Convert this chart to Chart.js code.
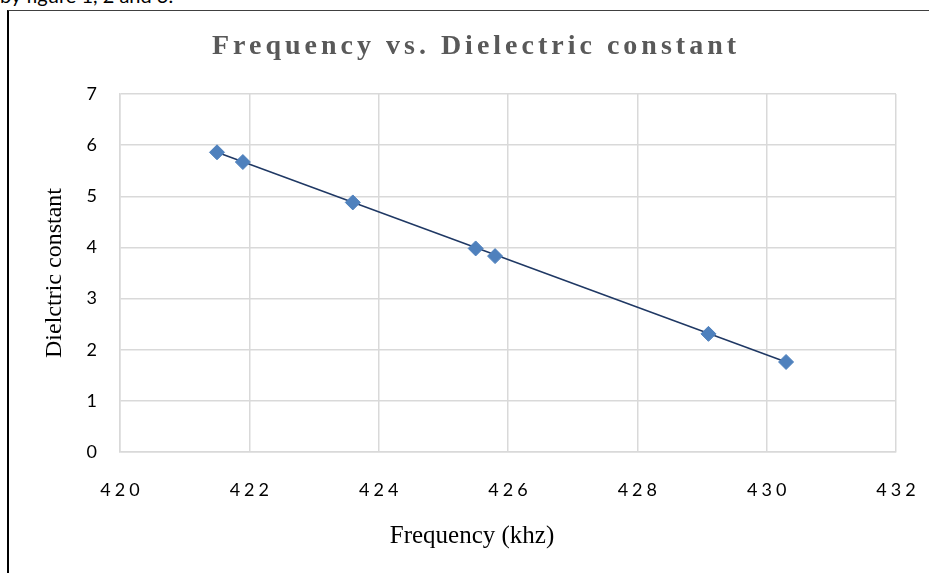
<!DOCTYPE html>
<html>
<head>
<meta charset="utf-8">
<script src="https://cdn.jsdelivr.net/npm/chart.js@4/dist/chart.umd.min.js"></script>
<style>
  html, body { margin: 0; padding: 0; background: #fff; overflow: hidden; width: 929px; height: 573px; }
  #doc-text { position: absolute; left: 0; top: -17px; font: 20px Lato, "Noto Sans", sans-serif; color: #000; white-space: nowrap; }
  #frame { position: absolute; left: 7px; top: 10px; width: 930px; height: 570px; border-left: 2px solid #000; border-top: 1px solid #404040; }
  #grafico { position: absolute; left: 0; top: 0; }
</style>
</head>
<body>
<div id="doc-text">by figure 1, 2 and 3.</div>
<div id="frame"></div>
<canvas id="grafico" width="948" height="573"></canvas>
<script>
// datos
const frecuencia = [421.5, 421.9, 423.6, 425.5, 425.8, 429.1, 430.3];
const dielectrica = [5.86, 5.67, 4.88, 3.98, 3.83, 2.31, 1.76];
// extremos de la línea de tendencia
const tendenciaX = [421.5, 430.3];
const tendenciaY = [5.86, 1.76];
const ejeX = { min: 420, max: 432, paso: 2 };
const ejeY = { min: 0, max: 7, paso: 1 };

const puntos = frecuencia.map((f, i) => ({ x: f, y: dielectrica[i] }));
const tendencia = tendenciaX.map((f, i) => ({ x: f, y: tendenciaY[i] }));

// envuelve un método de dibujo con espaciado de letras y desplazamiento
function envolver(obj, metodo, espacio, dx) {
    const original = obj[metodo].bind(obj);
    obj[metodo] = function (a) {
        const c = obj.ctx || obj.chart.ctx;
        c.save();
        c.letterSpacing = espacio;
        c.translate(dx, 0);
        original(a);
        c.restore();
    };
}

const espaciado = {
    id: 'espaciado',
    afterLayout(chart) {
        const tb = chart.titleBlock;
        if (tb && !tb._esp) { envolver(tb, 'draw', '4px', 28); tb._esp = true; }
        const sx = chart.scales.x;
        if (sx && !sx._esp) {
            envolver(sx, 'drawLabels', '4px', 2);
            envolver(sx, 'drawTitle', '0px', -36);
            sx._esp = true;
        }
    }
};

const ctx = document.getElementById('grafico').getContext('2d');
new Chart(ctx, {
    type: 'scatter',
    data: {
        datasets: [{
            label: 'Dielectric constant',
            data: puntos,
            pointStyle: 'rectRot',
            pointRadius: 7.5,
            backgroundColor: '#4f81bd',
            borderColor: '#4f81bd',
            borderWidth: 1
        }, {
            label: 'Trend',
            data: tendencia,
            showLine: true,
            pointRadius: 0,
            borderColor: '#1f3864',
            borderWidth: 1.5
        }]
    },
    options: {
        responsive: false,
        animation: false,
        layout: { padding: { left: 0, right: 52, top: 0, bottom: 0 } },
        plugins: {
            legend: { display: false },
            tooltip: { enabled: false },
            title: {
                display: true,
                text: 'Frequency vs. Dielectric constant',
                color: '#595959',
                font: { family: '"Liberation Serif", serif', size: 28, weight: 'bold' },
                padding: { top: 30, bottom: 30.4 }
            }
        },
        scales: {
            x: {
                type: 'linear',
                min: ejeX.min,
                max: ejeX.max,
                afterFit: s => { s.height = 121; },
                ticks: {
                    stepSize: ejeX.paso,
                    color: '#000',
                    padding: 27,
                    font: { family: 'Lato, sans-serif', size: 18 }
                },
                grid: { color: '#d9d9d9', lineWidth: 1.5, drawTicks: false },
                border: { display: true, color: '#d9d9d9', width: 1.5 },
                title: {
                    display: true,
                    text: 'Frequency (khz)',
                    color: '#000',
                    font: { family: '"Liberation Serif", serif', size: 25 },
                    padding: { top: 0, bottom: 22 }
                }
            },
            y: {
                min: ejeY.min,
                max: ejeY.max,
                afterFit: s => { s.width = 120; },
                ticks: {
                    stepSize: ejeY.paso,
                    color: '#000',
                    padding: 23,
                    font: { family: 'Lato, sans-serif', size: 18 }
                },
                grid: { color: '#d9d9d9', lineWidth: 1.5, drawTicks: false },
                border: { display: true, color: '#d9d9d9', width: 1.5 },
                title: {
                    display: true,
                    text: 'Dielctric constant',
                    color: '#000',
                    font: { family: '"Liberation Serif", serif', size: 24 },
                    padding: { top: 40, bottom: 0 }
                }
            }
        }
    },
    plugins: [espaciado]
});
</script>
</body>
</html>
